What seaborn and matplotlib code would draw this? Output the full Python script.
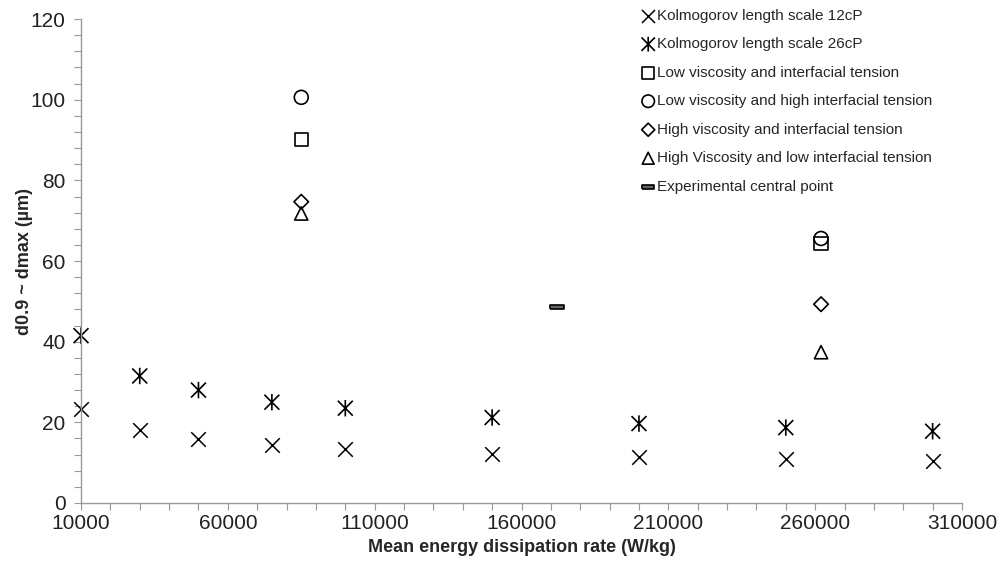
"""
Размер капель d0.9 против средней скорости диссипации энергии
"""
import matplotlib
matplotlib.use('Agg')
import matplotlib.pyplot as plt
from matplotlib.path import Path
import seaborn as sns
import pandas as pd

# Данные
eps_kolm = [10000, 30000, 50000, 75000, 100000, 150000, 200000, 250000, 300000]
kolm_12cp = [23.3, 18.0, 15.8, 14.4, 13.4, 12.2, 11.4, 10.9, 10.3]
kolm_26cp = [41.5, 31.5, 28.0, 25.0, 23.5, 21.2, 19.7, 18.7, 17.8]

eps_exp = [85000, 262000]
low_visc_low_ift = [90.2, 64.3]
low_visc_high_ift = [100.6, 65.6]
high_visc_high_ift = [74.7, 49.3]
high_visc_low_ift = [71.8, 37.4]

eps_central = [172000]
central_point = [48.6]

sns.set_style("white")
plt.rcParams['font.family'] = ['Liberation Sans', 'DejaVu Sans']

fig = plt.figure(figsize=(10, 5.62), dpi=100)
ax = fig.add_axes([0.081, 0.105, 0.881, 0.861])

# маркеры: звёздочка (x + вертикальная черта) и плоский прямоугольник
star = Path([(-1, -1), (1, 1), (-1, 1), (1, -1), (0, -1.1), (0, 1.1)],
            [Path.MOVETO, Path.LINETO, Path.MOVETO, Path.LINETO, Path.MOVETO, Path.LINETO])
rect = [(-1, -0.35), (1, -0.35), (1, 0.35), (-1, 0.35), (-1, -0.35)]

series = [
    (eps_kolm, kolm_12cp, 'x', 'Kolmogorov length scale 12cP', 110, 'k'),
    (eps_kolm, kolm_26cp, star, 'Kolmogorov length scale 26cP', 140, 'none'),
    (eps_exp, low_visc_low_ift, 's', 'Low viscosity and interfacial tension', 90, 'none'),
    (eps_exp, low_visc_high_ift, 'o', 'Low viscosity and high interfacial tension', 100, 'none'),
    (eps_exp, high_visc_high_ift, 'D', 'High viscosity and interfacial tension', 55, 'none'),
    (eps_exp, high_visc_low_ift, '^', 'High Viscosity and low interfacial tension', 90, 'none'),
    (eps_central, central_point, rect, 'Experimental central point', 90, '#666666'),
]

for x, y, m, lab, s, fc in series:
    df = pd.DataFrame({'x': x, 'y': y})
    if fc == 'k':
        sns.scatterplot(data=df, x='x', y='y', marker=m, s=s, color='black',
                        linewidth=1.1, ax=ax, label=lab, clip_on=False)
    else:
        sns.scatterplot(data=df, x='x', y='y', marker=m, s=s, facecolor=fc,
                        edgecolor='black', linewidth=1.2, ax=ax, label=lab, clip_on=False)

ax.set_xlim(10000, 310000)
ax.set_ylim(0, 120)
ax.set_xticks(range(10000, 310001, 50000))
ax.set_yticks(range(0, 121, 20))
ax.set_xticks(range(10000, 310001, 10000), minor=True)
ax.set_yticks(range(0, 121, 4), minor=True)

for side in ['top', 'right']:
    ax.spines[side].set_visible(False)
for side in ['left', 'bottom']:
    ax.spines[side].set_color('#999999')
    ax.spines[side].set_linewidth(1.0)

ax.tick_params(which='both', direction='out', length=5, width=0.8,
               color='#999999', labelsize=15, labelcolor='#222222',
               bottom=True, left=True)
ax.tick_params(axis='x', pad=3)
ax.tick_params(axis='y', pad=6)

ax.set_xlabel('Mean energy dissipation rate (W/kg)', fontsize=13, fontweight='bold')
ax.set_ylabel('d0.9 ~ dmax (µm)', fontsize=13, fontweight='bold', labelpad=-2)

leg = ax.legend(loc='upper left', bbox_to_anchor=(0.623, 1.05), frameon=False,
                fontsize=11, handlelength=0.6, handletextpad=0.25,
                labelspacing=0.95, markerscale=0.9)

plt.savefig('out.png', dpi=100)
plt.close()
